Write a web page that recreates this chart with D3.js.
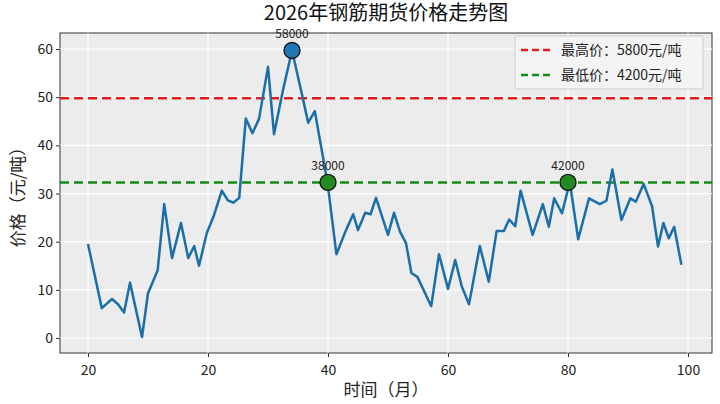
<!DOCTYPE html><html><head><meta charset="utf-8"><script src="https://cdn.jsdelivr.net/npm/d3@7"></script>
<style>body{margin:0;background:#fff}text{font-family:"Noto Sans CJK SC","DejaVu Sans",sans-serif}</style></head><body><svg id="c" width="720" height="404"></svg><script>
const months=[0,2.3,4,5,6,7,9,10,11.6,12.7,14,15.5,16.7,17.7,18.5,19.8,21,22.3,23.3,24.2,25.2,26.3,27.4,28.5,30,31,32.5,34,35.6,36.7,37.8,39.9,41.4,43,44.2,45,46.2,47.1,48,50,51,52,53,53.9,54.9,57.2,58.5,60,61.2,62.3,63.5,65.3,66.8,68.1,69.3,70.2,71.2,72.1,74.1,75.8,76.8,77.7,79,80.3,81.7,83.5,85.3,86.4,87.4,88.9,90.4,91.3,92.6,94,95,95.9,96.8,97.7,98.9];
const prices=[19.5,6.2,8.1,7,5.3,11.5,0.2,9.3,14,27.8,16.6,23.9,16.6,19.1,15,21.8,25.5,30.6,28.6,28.1,29.1,45.6,42.5,45.5,56.3,42.3,51.5,59.7,50.9,44.7,47.1,32.4,17.4,22.4,25.7,22.4,26,25.7,29.1,21.4,26,22.1,19.7,13.5,12.7,6.6,17.4,10.2,16.2,10.7,7,19.1,11.7,22.2,22.2,24.6,23.2,30.6,21.4,27.8,23.1,29,25.9,32.4,20.5,29,27.8,28.5,35,24.5,29,28.3,32,27.4,19,23.9,20.7,23.1,15.2];
const highLine=49.8, lowLine=32.3;
const markers=[{x:34,y:59.7,label:"58000",color:"#1f77b4"},{x:40,y:32.3,label:"38000",color:"#228b22"},{x:80,y:32.3,label:"42000",color:"#228b22"}];
const xTicks=[0,20,40,60,80,100], xTickLabels=["20","20","40","60","80","100"];
const yTicks=[0,10,20,30,40,50,60];
const legendItems=[{t:"最高价：5800元/吨",c:"#e41a1c"},{t:"最低价：4200元/吨",c:"#138a13"}];
const svg=d3.select("#c");
const L=60,R=712,T=33,B=353;
const x=d3.scaleLinear().domain([-4.67,104]).range([L,R]);
const y=d3.scaleLinear().domain([-3.11,63.33]).range([B,T]);
svg.append("rect").attr("x",L).attr("y",T).attr("width",R-L).attr("height",B-T).attr("fill","#ececec").attr("stroke","#333").attr("stroke-width",1);
const g=svg.append("g");
xTicks.forEach(v=>g.append("line").attr("x1",x(v)).attr("x2",x(v)).attr("y1",T).attr("y2",B).attr("stroke","#fff").attr("stroke-width",1.2));
yTicks.forEach(v=>g.append("line").attr("x1",L).attr("x2",R).attr("y1",y(v)).attr("y2",y(v)).attr("stroke","#fff").attr("stroke-width",1.2));
const xa=svg.append("g").attr("transform",`translate(0,${B})`).call(d3.axisBottom(x).tickValues(xTicks).tickFormat((d,i)=>xTickLabels[i]).tickSize(4));
const ya=svg.append("g").attr("transform",`translate(${L},0)`).call(d3.axisLeft(y).tickValues(yTicks).tickSize(4));
[xa,ya].forEach(a=>{a.select(".domain").remove();a.selectAll("text").attr("font-size",14).attr("fill","#222");a.selectAll("line").attr("stroke","#333");});
xa.selectAll("text").attr("dy","1.1em");
[[highLine,legendItems[0].c],[lowLine,legendItems[1].c]].forEach(([v,c])=>svg.append("line").attr("x1",L).attr("x2",R).attr("y1",y(v)).attr("y2",y(v)).attr("stroke",c).attr("stroke-width",2.5).attr("stroke-dasharray","9,5"));
svg.append("path").datum(months.map((m,i)=>[m,prices[i]])).attr("fill","none").attr("stroke","#1a6fa8").attr("stroke-width",2.5).attr("stroke-linejoin","round").attr("d",d3.line().x(d=>x(d[0])).y(d=>y(d[1])));
markers.forEach(m=>{svg.append("circle").attr("cx",x(m.x)).attr("cy",y(m.y)).attr("r",8).attr("fill",m.color).attr("stroke","#111").attr("stroke-width",1.3);
svg.append("text").attr("x",x(m.x)).attr("y",y(m.y)-12).attr("text-anchor","middle").attr("font-size",12).attr("fill","#222").text(m.label);});
const lg=svg.append("g").attr("transform","translate(515,36)");
lg.append("rect").attr("width",188).attr("height",53).attr("fill","#f4f4f4").attr("stroke","#ccc").attr("rx",2);
legendItems.forEach((it,i)=>{lg.append("line").attr("x1",6).attr("x2",36).attr("y1",14+i*25).attr("y2",14+i*25).attr("stroke",it.c).attr("stroke-width",2.5).attr("stroke-dasharray","7,4");
lg.append("text").attr("x",46).attr("y",19+i*25).attr("font-size",14).attr("fill","#222").text(it.t);});
svg.append("text").attr("x",386).attr("y",20).attr("text-anchor","middle").attr("font-size",20).attr("fill","#111").text("2026年钢筋期货价格走势图");
svg.append("text").attr("x",386).attr("y",396).attr("text-anchor","middle").attr("font-size",17).attr("fill","#222").text("时间（月）");
svg.append("text").attr("transform","translate(24,193) rotate(-90)").attr("text-anchor","middle").attr("font-size",17).attr("fill","#222").text("价格（元/吨）");
</script></body></html>
